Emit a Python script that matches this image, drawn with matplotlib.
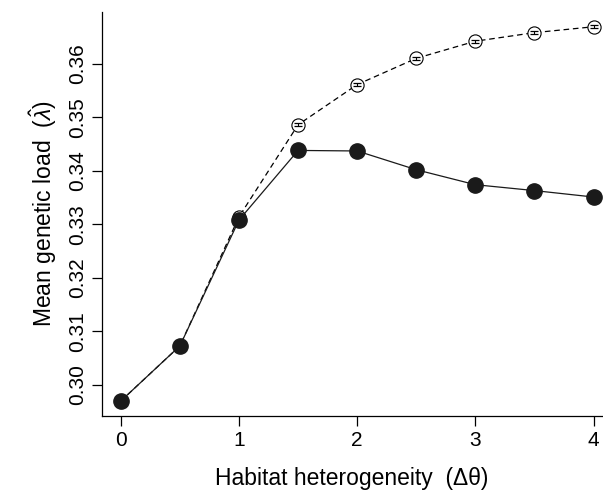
import matplotlib
matplotlib.use("Agg")
import matplotlib.pyplot as plt

plt.rcParams['font.family'] = ['Liberation Sans', 'DejaVu Sans']
plt.rcParams['mathtext.fontset'] = 'custom'
plt.rcParams['mathtext.rm'] = 'Liberation Sans'
plt.rcParams['mathtext.it'] = 'Liberation Sans:italic'

# habitat heterogeneity values
delta_theta = [0, 0.5, 1, 1.5, 2, 2.5, 3, 3.5, 4]
# filled circles (solid line)
load_filled = [0.2970, 0.3073, 0.3308, 0.3438, 0.3437, 0.3402, 0.3374, 0.3363, 0.3351]
# open circles (dashed line) with standard errors
load_open = [0.2970, 0.3073, 0.3314, 0.3486, 0.3561, 0.3610, 0.3642, 0.3658, 0.3669]
load_open_err = [0.0003, 0.0003, 0.0003, 0.0003, 0.0003, 0.0003, 0.0003, 0.0003, 0.0003]

yticks = [0.30, 0.31, 0.32, 0.33, 0.34, 0.35, 0.36]
xticks = [0, 1, 2, 3, 4]

fig = plt.figure(figsize=(6.03, 4.9), dpi=100)
ax = fig.add_axes([0.169, 0.151, 0.829, 0.825])

ax.plot(delta_theta, load_open, color='black', lw=0.9, ls=(0, (4.5, 3)),
        marker='o', ms=9.5, mfc='white', mec='black', mew=0.8, zorder=1)
ax.errorbar(delta_theta, load_open, yerr=load_open_err, fmt='none',
            ecolor='black', elinewidth=0.8, capsize=3, capthick=0.9, zorder=2)
ax.plot(delta_theta, load_filled, color='#1a1a1a', lw=0.9, marker='o', ms=11,
        mfc='#1a1a1a', mec='#1a1a1a', zorder=3)

ax.set_xlim(-0.16, 4.07)
ax.set_ylim(0.2942, 0.3697)
ax.set_xticks(xticks)
ax.set_xticklabels([str(x) for x in xticks])
ax.set_yticks(yticks)
ax.set_yticklabels(['%.2f' % y for y in yticks], rotation=90, va='center')

for s in ['top', 'right']:
    ax.spines[s].set_visible(False)
for s in ['left', 'bottom']:
    ax.spines[s].set_linewidth(0.9)
ax.tick_params(axis='both', labelsize=15, length=7, width=0.9, pad=4)

ax.set_xlabel('Habitat heterogeneity  (\u0394\u03b8)', fontsize=16.5, labelpad=12)
ax.set_ylabel(r'Mean genetic load  $(\hat{\lambda})$', fontsize=16.5, labelpad=6)

fig.savefig('out.png', dpi=100)
